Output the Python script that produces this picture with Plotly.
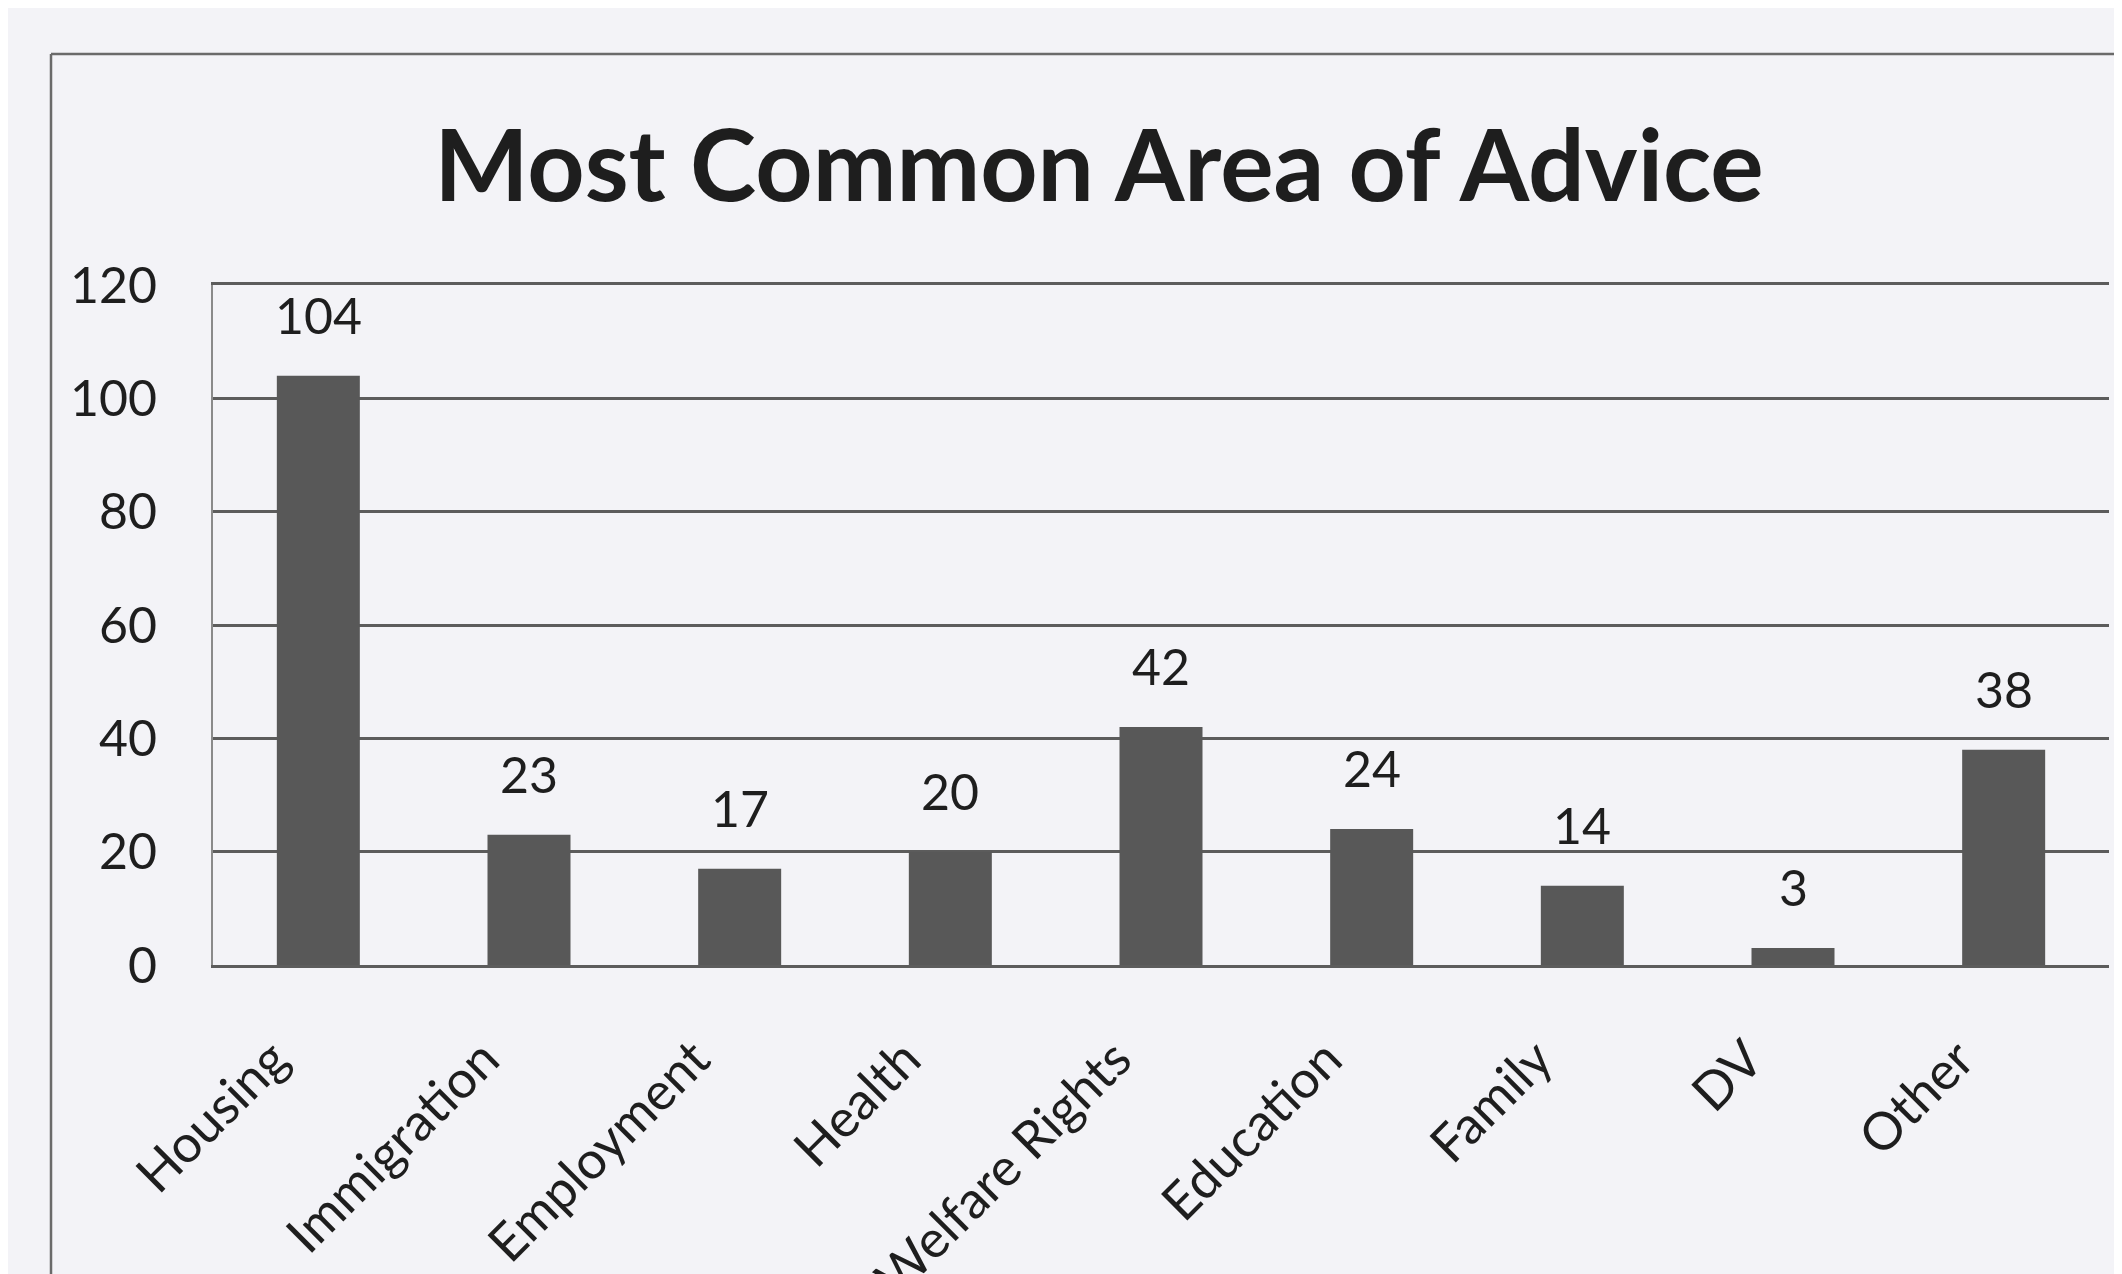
import plotly.graph_objects as go

categories = ["Housing", "Immigration", "Employment", "Health", "Welfare Rights",
              "Education", "Family", "DV", "Other"]
counts = [104, 23, 17, 20, 42, 24, 14, 3, 38]
y_ticks = [0, 20, 40, 60, 80, 100, 120]
title_text = "Most Common Area of Advice"

W, H = 2122, 1274
L, R, T, B = 205, 2122 - 2101, 277, 1274 - 957
pw, ph = W - L - R, H - T - B

bg = "#f3f3f7"
ink = "#1e1e1e"
grid = "#5c5c5c"
FONT = "Lato"

fig = go.Figure(go.Bar(
    x=categories, y=counts,
    marker=dict(color="#585858", line=dict(width=0)),
    width=0.394,
))

for c, v in zip(categories, counts):
    fig.add_annotation(x=c, y=v, text=str(v), showarrow=False,
                       yanchor="bottom", yshift=29,
                       font=dict(family=FONT, size=50, color=ink))

# outer chart frame (top and left edges visible)
fx = (43 - L) / pw
fy = (H - B - 46) / ph
fig.add_shape(type="line", xref="paper", yref="paper",
              x0=fx, x1=1.2, y0=fy, y1=fy, line=dict(color="#6a6a6a", width=2.5))
fig.add_shape(type="line", xref="paper", yref="paper",
              x0=fx, x1=fx, y0=fy, y1=-1, line=dict(color="#6a6a6a", width=2.5))

fig.update_layout(
    width=W, height=H,
    margin=dict(l=L, r=R, t=T, b=B, autoexpand=False),
    paper_bgcolor=bg, plot_bgcolor=bg,
    showlegend=False,
    title=dict(text=title_text, xref="container", x=1091 / W, xanchor="center",
               yref="container", y=1 - 158 / H, yanchor="middle",
               font=dict(family=FONT, size=100, color=ink, weight="bold")),
    xaxis=dict(tickangle=-45, tickfont=dict(family=FONT, size=52, color=ink),
               showline=True, linecolor=grid, linewidth=2.5, mirror=True, ticks="",
               ticklabelstandoff=40, ticklabelshift=-45, showgrid=False,
               automargin=False),
    yaxis=dict(range=[0, 120], tickvals=y_ticks, tickfont=dict(family=FONT, size=50, color=ink),
               showgrid=True, gridcolor=grid, gridwidth=2.5,
               showline=True, linecolor="#8a8a8a", linewidth=2, ticks="",
               ticklabelstandoff=44, zeroline=False, automargin=False),
)

fig.write_html("out.html")
